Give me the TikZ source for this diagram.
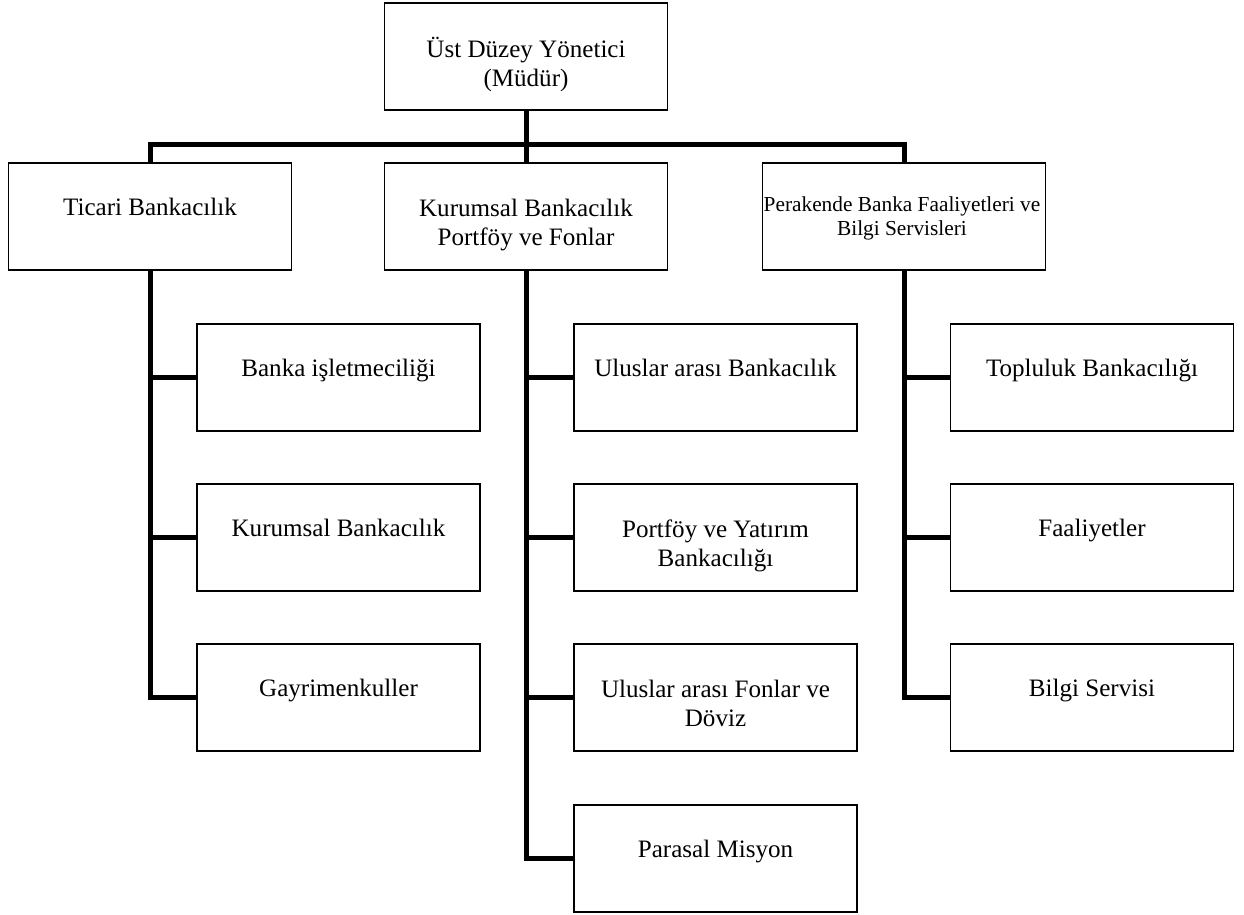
\documentclass[tikz,border=0pt]{standalone}
\usepackage{fontspec}
\setmainfont{Liberation Serif}
\usetikzlibrary{calc}
% centred lines whose baseline is that of the first line
\newcommand\twolines[1]{\begin{tabular}[t]{@{}c@{}}#1\end{tabular}}
\begin{document}
\begin{tikzpicture}[x=0.75pt,y=-0.75pt,
  box/.style={draw=black, line width=1.1pt, fill=white, inner sep=0pt,
              minimum width=212.25pt, minimum height=80.25pt},
  conn/.style={draw=black, line width=3.75pt, line join=miter},
  lbl/.style={inner sep=0pt, anchor=base, font=\fontsize{18.8}{21.75}\selectfont},
  lblsmall/.style={lbl, font=\fontsize{16}{18}\selectfont}]
\useasboundingbox (0,0) rectangle (1244,914);

% top level
\node[box] (top) at (526,56.5) {};
% departments
\node[box] (tic) at (150,216.5) {};
\node[box] (kur) at (526,216.5) {};
\node[box] (per) at (904,216.5) {};
% units under Ticari Bankacilik
\node[box] (t1) at (338.5,377.5) {};
\node[box] (t2) at (338.5,537.5) {};
\node[box] (t3) at (338.5,697.5) {};
% units under Kurumsal Bankacilik
\node[box] (k1) at (715.5,377.5) {};
\node[box] (k2) at (715.5,537.5) {};
\node[box] (k3) at (715.5,697.5) {};
\node[box] (k4) at (715.5,858.5) {};
% units under Perakende
\node[box] (p1) at (1092,377.5) {};
\node[box] (p2) at (1092,537.5) {};
\node[box] (p3) at (1092,697.5) {};

% connectors
\coordinate (bar) at (526,144);
\draw[conn] (top.south) -- (kur.north);
\draw[conn] (tic.north) |- (bar) -| (per.north);
\draw[conn] (tic.south) |- (t1.west);
\draw[conn] (tic.south) |- (t2.west);
\draw[conn] (tic.south) |- (t3.west);
\draw[conn] (kur.south) |- (k1.west);
\draw[conn] (kur.south) |- (k2.west);
\draw[conn] (kur.south) |- (k3.west);
\draw[conn] (kur.south) |- (k4.west);
\draw[conn] (per.south) |- (p1.west);
\draw[conn] (per.south) |- (p2.west);
\draw[conn] (per.south) |- (p3.west);

% box texts
\node[lbl] (topT) at ($(top.north)+(0,55)$) {\twolines{Üst Düzey Yönetici\\(Müdür)}};
\node[lbl] (ticT) at ($(tic.north)+(0,53)$) {Ticari Bankacılık};
\node[lbl] (kurT) at ($(kur.north)+(0,54)$) {\twolines{Kurumsal Bankacılık\\Portföy ve Fonlar}};
\node[lblsmall] (perT) at ($(per.north)+(-2,49)$) {\twolines{Perakende Banka Faaliyetleri ve\\Bilgi Servisleri}};
\node[lbl] (t1T) at ($(t1.north)+(0,53)$) {Banka işletmeciliği};
\node[lbl] (t2T) at ($(t2.north)+(0,53)$) {Kurumsal Bankacılık};
\node[lbl] (t3T) at ($(t3.north)+(0,53)$) {Gayrimenkuller};
\node[lbl] (k1T) at ($(k1.north)+(0,53)$) {Uluslar arası Bankacılık};
\node[lbl] (k2T) at ($(k2.north)+(0,54)$) {\twolines{Portföy ve Yatırım\\Bankacılığı}};
\node[lbl] (k3T) at ($(k3.north)+(0,54)$) {\twolines{Uluslar arası Fonlar ve\\Döviz}};
\node[lbl] (k4T) at ($(k4.north)+(0,53)$) {Parasal Misyon};
\node[lbl] (p1T) at ($(p1.north)+(0,53)$) {Topluluk Bankacılığı};
\node[lbl] (p2T) at ($(p2.north)+(0,53)$) {Faaliyetler};
\node[lbl] (p3T) at ($(p3.north)+(0,53)$) {Bilgi Servisi};
\end{tikzpicture}
\end{document}
